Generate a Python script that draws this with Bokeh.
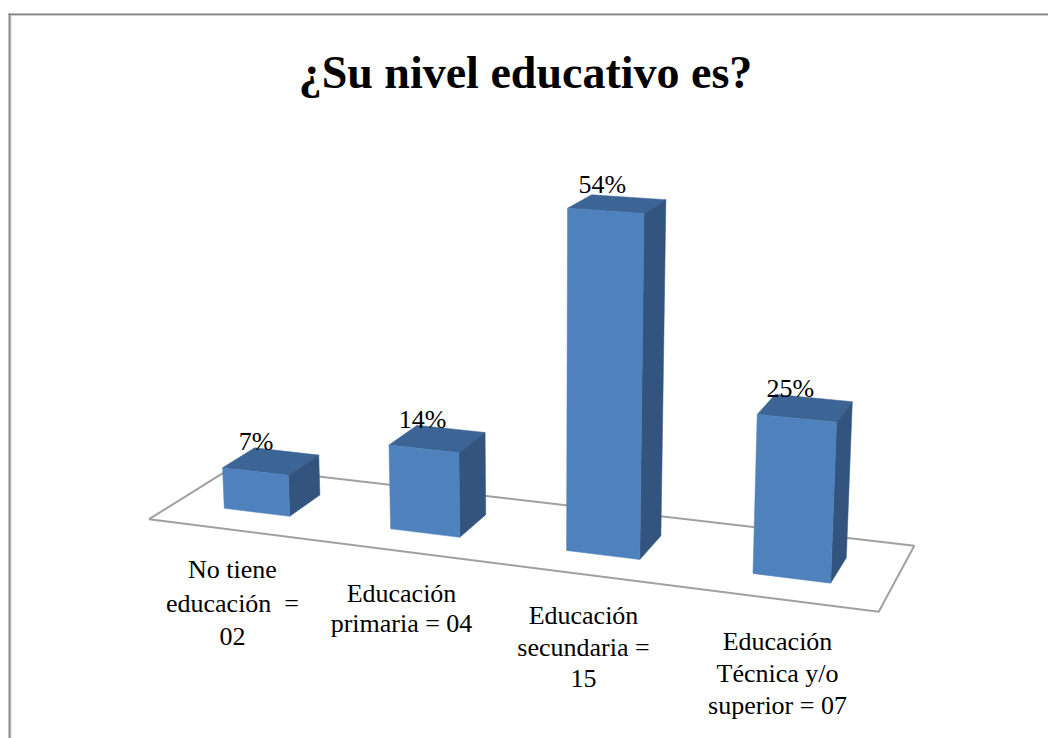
import numpy as np
from bokeh.core.properties import value
from bokeh.embed import file_html
from bokeh.models import ColumnDataSource
from bokeh.plotting import figure
from bokeh.resources import INLINE

# Survey answers
titulo = "¿Su nivel educativo es?"
porcentajes = [7, 14, 54, 25]
etiquetas = ["7%", "14%", "54%", "25%"]
categorias = [
    ["No tiene", "educación \u00a0=", "02"],
    ["Educación", "primaria = 04"],
    ["Educación", "secundaria =", "15"],
    ["Educación", "Técnica y/o", "superior = 07"],
]

# Layout of the category captions: centre x, first line y, line spacing
caption_x = [232, 401, 583, 777]
caption_y = [569, 593, 615, 641]
caption_gap = [33.5, 30, 31.5, 32]

FONT = value("Liberation Serif")
FRONT, TOP, SIDE = "#4F81BD", "#3C6494", "#32547F"

# Perspective camera: world (category, percent / 50, depth, 1) -> homogeneous screen
CAMERA = np.array([
    [0.15754, -0.02002, 0.09262, 0.15270],
    [0.00620, -0.31083, -0.01500, 0.51612],
    [-0.02759, -0.03684, 0.07002, 1.00000],
])
HALF_WIDTH = 0.20   # half a bar, in category units
DEPTH_INSET = 0.285  # gap between floor edge and bar, as a share of the floor depth
FLOOR_PAD_Z = 0.05   # floor overhang in front of and behind the depth range


def project(x, pct, z):
    u, v, w = CAMERA @ np.array([x, pct / 50, z, 1.0])
    return 1000 * u / w, 1000 * v / w


def face(*corners):
    pts = [project(*c) for c in corners]
    return [p[0] for p in pts], [p[1] for p in pts]


p = figure(width=1048, height=738, output_backend="svg", toolbar_location=None,
           x_range=(0, 1048), y_range=(738, 0), min_border=0,
           background_fill_color="white", border_fill_color="white", outline_line_color=None)
p.xaxis.visible = False
p.yaxis.visible = False
p.grid.visible = False

# Chart frame: only the top and left edges are on the page
p.line([10.5, 10.5], [15, 738], line_color="#cfcfcf", line_width=1)
p.line([10.5, 1048], [15, 15], line_color="#d2d2d2", line_width=1)
p.line([9, 9], [13, 738], line_color="#8a8a8a", line_width=2)
p.line([8, 1048], [13.7, 13.7], line_color="#808080", line_width=1.5)

# Floor of the 3-D plot
n = len(porcentajes)
fz0, fz1 = -FLOOR_PAD_Z, 1 + FLOOR_PAD_Z
fx, fy = face((0, 0, fz0), (n, 0, fz0), (n, 0, fz1), (0, 0, fz1))
p.patch(fx, fy, fill_color=None, line_color="#a0a0a0", line_width=2)

# Bars: three visible faces each, built from the percentages
front_xs, front_ys, top_xs, top_ys, side_xs, side_ys = [], [], [], [], [], []
for i, pct in enumerate(porcentajes):
    l, r = i + 0.5 - HALF_WIDTH, i + 0.5 + HALF_WIDTH
    z0, z1 = DEPTH_INSET, 1 - DEPTH_INSET
    x, y = face((l, pct, z0), (r, pct, z0), (r, 0, z0), (l, 0, z0))
    front_xs.append(x); front_ys.append(y)
    x, y = face((l, pct, z0), (r, pct, z0), (r, pct, z1), (l, pct, z1))
    top_xs.append(x); top_ys.append(y)
    x, y = face((r, pct, z0), (r, pct, z1), (r, 0, z1), (r, 0, z0))
    side_xs.append(x); side_ys.append(y)

for xs, ys, color in ((top_xs, top_ys, TOP), (side_xs, side_ys, SIDE), (front_xs, front_ys, FRONT)):
    p.patches(xs, ys, fill_color=color, line_color=color, line_width=0.5)

# Percentage labels sit just above and left of the centre of each bar's top
anchors = [project(i + 0.5, pct, 0.5) for i, pct in enumerate(porcentajes)]
p.text(x=[a[0] - 15 for a in anchors], y=[a[1] - 19.5 for a in anchors], text=etiquetas,
       text_font=FONT, text_font_size="26px", text_color="black",
       text_align="center", text_baseline="middle")

# Category captions
cap_x, cap_y, cap_t = [], [], []
for lines, cx, cy, gap in zip(categorias, caption_x, caption_y, caption_gap):
    for k, line in enumerate(lines):
        cap_x.append(cx); cap_y.append(cy + k * gap); cap_t.append(line)
p.text(x="x", y="y", text="t", source=ColumnDataSource(dict(x=cap_x, y=cap_y, t=cap_t)),
       text_font=FONT, text_font_size="26px", text_color="black",
       text_align="center", text_baseline="middle")

# Title
p.text(x=[525], y=[72], text=[titulo], text_font=FONT, text_font_size="46px",
       text_font_style="bold", text_color="black", text_align="center", text_baseline="middle")

open("out.html", "w").write(file_html(p, INLINE))
